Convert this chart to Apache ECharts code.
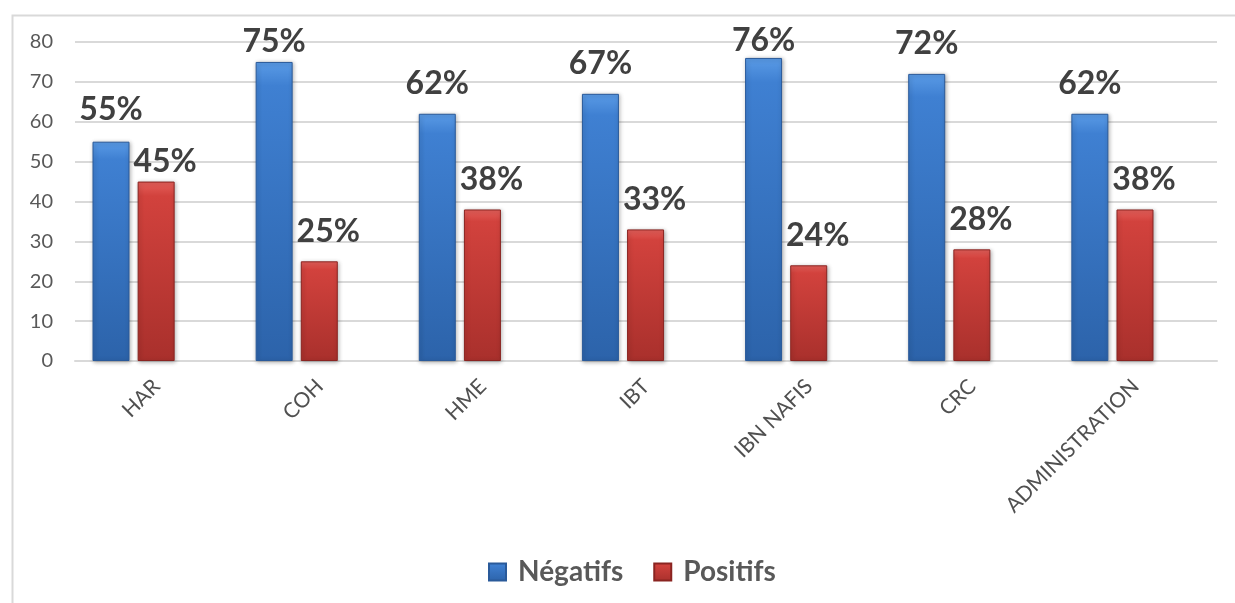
<!DOCTYPE html>
<html>
<head>
<meta charset="utf-8">
<script src="https://cdn.jsdelivr.net/npm/echarts@6/dist/echarts.min.js"></script>
<style>
  html, body { margin: 0; padding: 0; background: #ffffff; }
  #chart { width: 1235px; height: 603px; }
</style>
</head>
<body>
<div id="chart"></div>
<script>
// Sites surveyed and share of results per site (%)
const categories = ['HAR', 'COH', 'HME', 'IBT', 'IBN NAFIS', 'CRC', 'ADMINISTRATION'];
const negatifs = [55, 75, 62, 67, 76, 72, 62];
const positifs = [45, 25, 38, 33, 24, 28, 38];
const yTicks = { min: 0, max: 80, interval: 10 };

// Label nudges (px, vertical) so that labels near the top or close to a neighbour stay readable
const negLabelNudge = [-2, 10, 0, 0, 13, 0, 0];
const posLabelNudge = [10, 0, 0, 0, 0, 0, 0];

const FONT = 'Lato, "Open Sans", sans-serif';

function barFill(top, mid, bottom) {
  return new echarts.graphic.LinearGradient(0, 0, 0, 1, [
    { offset: 0, color: top },
    { offset: 0.08, color: mid },
    { offset: 1, color: bottom }
  ]);
}

const blueStyle = {
  color: barFill('#5a9be6', '#3f80d2', '#2c63aa'),
  borderColor: '#2a5a9a',
  borderWidth: 1,
  shadowColor: 'rgba(0,0,0,0.3)',
  shadowBlur: 4,
  shadowOffsetX: 1,
  shadowOffsetY: 1
};
const redStyle = {
  color: barFill('#e5605b', '#d2423d', '#a9302c'),
  borderColor: '#8a2421',
  borderWidth: 1,
  shadowColor: 'rgba(0,0,0,0.3)',
  shadowBlur: 4,
  shadowOffsetX: 1,
  shadowOffsetY: 1
};

const valueLabel = {
  show: true,
  position: 'top',
  distance: 14,
  formatter: '{c}%',
  color: '#404040',
  fontFamily: FONT,
  fontWeight: 'bold',
  fontSize: 32
};

function withNudges(values, nudges, dx) {
  return values.map((v, i) => ({
    value: v,
    label: { offset: [dx, nudges[i]] }
  }));
}

const chart = echarts.init(document.getElementById('chart'), null, { renderer: 'canvas' });

chart.setOption({
  backgroundColor: '#ffffff',
  animation: false,
  graphic: [{
    type: 'rect',
    left: 10,
    top: 13,
    shape: { width: 1400, height: 800 },
    style: { fill: 'none', stroke: '#d9d9d9', lineWidth: 2 },
    silent: true,
    z: -1
  }],
  // grid 0 holds the bars, grid 1 the frame: gridlines, tick labels and axis line
  grid: [
    { left: 52, right: 41, top: 42, bottom: 242, containLabel: false },
    { left: 75, right: 18, top: 42, bottom: 242, containLabel: false }
  ],
  legend: {
    data: ['Négatifs', 'Positifs'],
    left: 483,
    top: 553,
    itemWidth: 17,
    itemHeight: 17,
    itemGap: 30,
    icon: 'rect',
    textStyle: {
      color: '#595959', fontFamily: FONT, fontWeight: 'bold', fontSize: 28,
      padding: [0, 0, 0, 7]
    }
  },
  xAxis: [
    {
      type: 'category',
      gridIndex: 0,
      data: categories,
      axisLine: { show: false },
      axisTick: { show: false },
      axisLabel: { show: false }
    },
    {
      type: 'category',
      gridIndex: 1,
      data: categories,
      axisLine: { show: true, lineStyle: { color: '#d9d9d9', width: 2 } },
      axisTick: { show: false },
      axisLabel: {
        rotate: 45,
        margin: 22,
        color: '#505050',
        fontFamily: FONT,
        fontSize: 21,
        interval: 0
      }
    }
  ],
  yAxis: [
    {
      type: 'value',
      gridIndex: 0,
      min: yTicks.min,
      max: yTicks.max,
      interval: yTicks.interval,
      axisLine: { show: false },
      axisTick: { show: false },
      axisLabel: { show: false },
      splitLine: { show: false }
    },
    {
      type: 'value',
      gridIndex: 1,
      min: yTicks.min,
      max: yTicks.max,
      interval: yTicks.interval,
      axisLine: { show: false },
      axisTick: { show: false },
      splitLine: { lineStyle: { color: '#d9d9d9', width: 2 } },
      axisLabel: { color: '#595959', fontFamily: FONT, fontSize: 20, margin: 22 }
    }
  ],
  series: [
    {
      name: 'Négatifs',
      type: 'bar',
      xAxisIndex: 0,
      yAxisIndex: 0,
      barWidth: 37,
      barGap: '22%',
      itemStyle: blueStyle,
      label: valueLabel,
      z: 3,
      data: withNudges(negatifs, negLabelNudge, 0)
    },
    {
      name: 'Positifs',
      type: 'bar',
      xAxisIndex: 0,
      yAxisIndex: 0,
      barWidth: 37,
      itemStyle: redStyle,
      label: valueLabel,
      z: 3,
      data: withNudges(positifs, posLabelNudge, 9)
    }
  ]
});
</script>
</body>
</html>
